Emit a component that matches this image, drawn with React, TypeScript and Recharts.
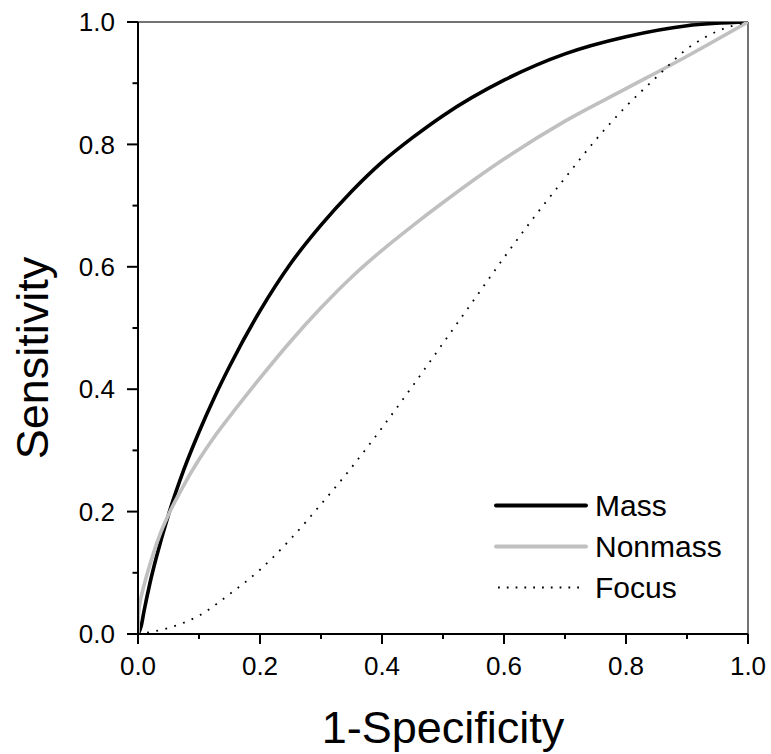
import React from 'react';
import { LineChart, Line, XAxis, YAxis, ReferenceLine, Legend } from 'recharts';

const FONT = "'Liberation Sans', Arial, sans-serif";

const xTicks = [0, 0.1, 0.2, 0.3, 0.4, 0.5, 0.6, 0.7, 0.8, 0.9, 1.0];
const yTicks = [0, 0.1, 0.2, 0.3, 0.4, 0.5, 0.6, 0.7, 0.8, 0.9, 1.0];

const seriesNames = ['Mass', 'Nonmass', 'Focus'];

const massX = [0, 0.005, 0.01, 0.02, 0.03, 0.05, 0.075, 0.1, 0.125, 0.15, 0.2, 0.25, 0.3, 0.35, 0.4, 0.45, 0.5, 0.6, 0.7, 0.8, 0.9, 1.0];
const massY = [0, 0.012, 0.038, 0.085, 0.125, 0.195, 0.268, 0.33, 0.386, 0.437, 0.528, 0.605, 0.668, 0.723, 0.771, 0.811, 0.847, 0.905, 0.948, 0.976, 0.994, 1.0];

const nonmassX = [0, 0.001, 0.005, 0.01, 0.02, 0.035, 0.05, 0.075, 0.1, 0.125, 0.15, 0.2, 0.25, 0.3, 0.35, 0.4, 0.45, 0.5, 0.6, 0.7, 0.8, 0.9, 1.0];
const nonmassY = [0, 0.035, 0.06, 0.08, 0.115, 0.16, 0.195, 0.243, 0.285, 0.322, 0.355, 0.418, 0.478, 0.533, 0.583, 0.627, 0.667, 0.705, 0.776, 0.838, 0.891, 0.944, 1.0];

const focusX = [0, 0.05, 0.1, 0.15, 0.2, 0.25, 0.3, 0.35, 0.4, 0.45, 0.5, 0.55, 0.6, 0.65, 0.7, 0.75, 0.8, 0.85, 0.9, 0.95, 1.0];
const focusY = [0, 0.01, 0.03, 0.065, 0.105, 0.155, 0.212, 0.272, 0.337, 0.405, 0.475, 0.545, 0.615, 0.682, 0.745, 0.807, 0.862, 0.91, 0.956, 0.985, 1.0];

const zip = (xs: number[], ys: number[]) => xs.map((x, i) => ({ x, y: ys[i] }));
const massData = zip(massX, massY);
const nonmassData = zip(nonmassX, nonmassY);
const focusData = zip(focusX, focusY);

const isMajor = (v: number) => Math.round(v * 10) % 2 === 0;

const XTick = (props: any) => {
  const { x, y, payload } = props;
  const v = payload.value as number;
  const major = isMajor(v);
  return (
    <g>
      <line x1={x} x2={x} y1={y} y2={y + (major ? 10 : 5)} stroke="#000" strokeWidth={2} />
      {major && (
        <text x={x} y={y + 41} textAnchor="middle" fontSize={26} fontFamily={FONT} fill="#000">
          {v.toFixed(1)}
        </text>
      )}
    </g>
  );
};

const YTick = (props: any) => {
  const { x, y, payload } = props;
  const v = payload.value as number;
  const major = isMajor(v);
  return (
    <g>
      <line x1={x - (major ? 11 : 5.5)} x2={x} y1={y} y2={y} stroke="#000" strokeWidth={2} />
      {major && (
        <text x={x - 23} y={y} dy="0.35em" textAnchor="end" fontSize={26} fontFamily={FONT} fill="#000">
          {v.toFixed(1)}
        </text>
      )}
    </g>
  );
};

const XTitle = (props: any) => {
  const vb = props.viewBox;
  return (
    <text x={vb.x + vb.width / 2} y={vb.y + 109} textAnchor="middle" fontSize={45} fontFamily={FONT} fill="#000">
      1-Specificity
    </text>
  );
};

const YTitle = (props: any) => {
  const vb = props.viewBox;
  const cx = vb.x + 48;
  const cy = vb.y + vb.height / 2 + 30;
  return (
    <text x={cx} y={cy} transform={`rotate(-90 ${cx} ${cy})`} textAnchor="middle" fontSize={45} fontFamily={FONT} fill="#000">
      Sensitivity
    </text>
  );
};

const legendStyles = [
  { stroke: '#000', strokeWidth: 4, dash: undefined as string | undefined, cap: 'round' as const, x1: 2, x2: 92 },
  { stroke: '#c0c0c0', strokeWidth: 4, dash: undefined as string | undefined, cap: 'round' as const, x1: 2, x2: 92 },
  { stroke: '#000', strokeWidth: 1.8, dash: '1.8 7', cap: 'butt' as const, x1: 4, x2: 86 },
];

const LegendBox = () => (
  <div style={{ fontFamily: FONT }}>
    {seriesNames.map((name, i) => {
      const s = legendStyles[i];
      return (
        <div key={name} style={{ display: 'flex', alignItems: 'center', height: 41 }}>
          <svg width={100} height={41} style={{ display: 'block' }}>
            <line x1={s.x1} x2={s.x2} y1={20.5} y2={20.5} stroke={s.stroke} strokeWidth={s.strokeWidth} strokeDasharray={s.dash} strokeLinecap={s.cap} />
          </svg>
          <span style={{ fontSize: 30, lineHeight: '41px', color: '#000', marginLeft: 1 }}>{name}</span>
        </div>
      );
    })}
  </div>
);

export default function App() {
  return (
    <div style={{ position: 'absolute', left: 0, top: 0, background: '#fff' }}>
      <LineChart width={771} height={754} margin={{ top: 22, right: 23, bottom: 0, left: 0 }}>
        <XAxis
          type="number"
          dataKey="x"
          domain={[0, 1]}
          ticks={xTicks}
          interval={0}
          height={120}
          tickSize={0}
          tickMargin={0}
          tickLine={false}
          tick={<XTick />}
          axisLine={{ stroke: '#000', strokeWidth: 2 }}
          label={<XTitle />}
          allowDataOverflow
        />
        <YAxis
          type="number"
          dataKey="y"
          domain={[0, 1]}
          ticks={yTicks}
          interval={0}
          width={138}
          tickSize={0}
          tickMargin={0}
          tickLine={false}
          tick={<YTick />}
          axisLine={{ stroke: '#000', strokeWidth: 2 }}
          label={<YTitle />}
          allowDataOverflow
        />
        <ReferenceLine y={1} stroke="#444" strokeWidth={1.5} />
        <ReferenceLine x={1} stroke="#444" strokeWidth={1.5} />
        <Line data={massData} dataKey="y" name="Mass" type="monotone" stroke="#000" strokeWidth={3.6} dot={false} activeDot={false} isAnimationActive={false} />
        <Line data={nonmassData} dataKey="y" name="Nonmass" type="monotone" stroke="#c0c0c0" strokeWidth={3.6} dot={false} activeDot={false} isAnimationActive={false} />
        <Line data={focusData} dataKey="y" name="Focus" type="monotone" stroke="#000" strokeWidth={1.8} strokeDasharray="1.8 7.5" dot={false} activeDot={false} isAnimationActive={false} />
        <Legend
          layout="vertical"
          align="center"
          verticalAlign="middle"
          content={() => <LegendBox />}
          wrapperStyle={{ left: 494, top: 485, width: 270 }}
        />
      </LineChart>
    </div>
  );
}
